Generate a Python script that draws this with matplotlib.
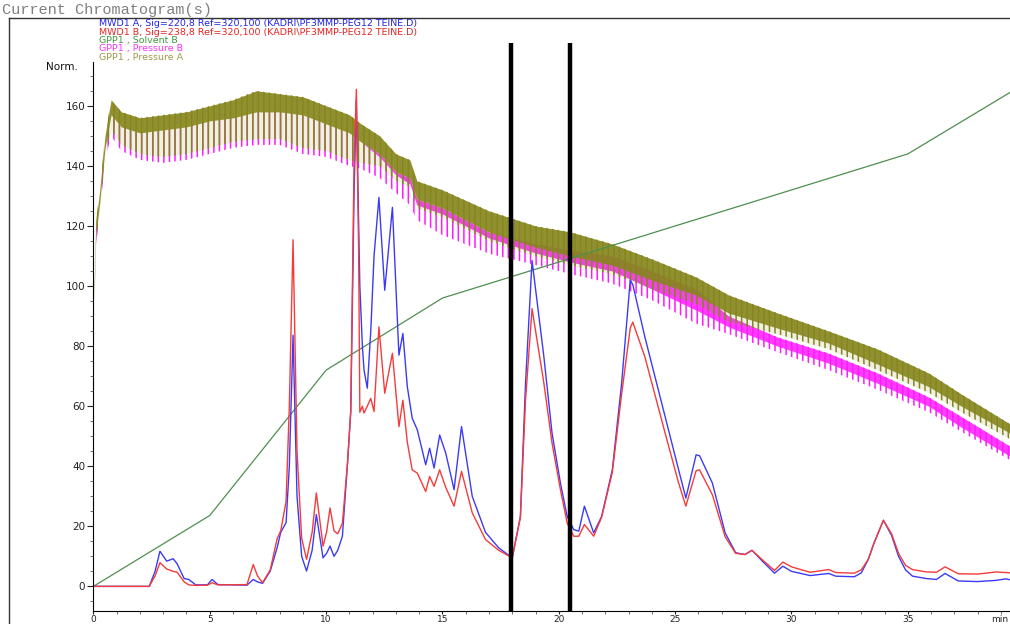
import matplotlib
matplotlib.use("Agg")
import matplotlib.pyplot as plt
from matplotlib.lines import Line2D
import numpy as np

# ---- UV traces (MWD1 A = 220 nm, MWD1 B = 238 nm)
uv_t = [0.0, 2.4, 2.65, 2.86, 3.15, 3.43, 3.6, 3.9, 4.1, 4.4, 4.9, 5.1, 5.35, 6.6, 6.87,
        7.05, 7.27, 7.6, 7.9, 8.05, 8.28, 8.42, 8.58, 8.75, 8.95, 9.16, 9.4, 9.58, 9.87,
        10.02, 10.17, 10.34, 10.5, 10.7, 10.92, 11.06, 11.2, 11.3, 11.4, 11.45, 11.56,
        11.63, 11.77, 11.92, 12.06, 12.27, 12.52, 12.85, 13.13, 13.3, 13.49, 13.7, 13.92,
        14.28, 14.45, 14.64, 14.88, 15.14, 15.5, 15.82, 16.28, 16.85, 17.42, 18.0, 18.35,
        18.57, 18.85, 19.36, 19.71, 20.07, 20.36, 20.64, 20.86, 21.1, 21.5, 21.84, 22.3,
        22.7, 23.07, 23.18, 23.7, 24.57, 25.15, 25.46, 25.9, 26.05, 26.6, 27.15, 27.6,
        28.0, 28.3, 28.8, 29.27, 29.63, 30.0, 30.8, 31.6, 31.9, 32.7, 33.0, 33.3, 33.55,
        33.95, 34.3, 34.6, 34.9, 35.2, 35.8, 36.23, 36.6, 37.17, 38.0, 38.8, 39.2, 39.4]
mwd_a = [0, 0, 5, 11.7, 8.4, 9.2, 7.5, 2.6, 2.3, 0.5, 0.5, 2.3, 0.6, 0.4, 2.3,
         1.5, 1.0, 5.1, 13, 18, 21.2, 40, 83.6, 30, 10, 5.1, 12, 23.9, 9.5,
         11, 13.4, 10, 12, 16.7, 41, 58, 130, 162, 120, 100, 79.8,
         72, 66, 85, 110, 129.5, 98.6, 126.2, 77, 84.2, 66.5, 56, 52.1,
         40.5, 46, 39.4, 50.4, 44.4, 32.2, 53.2, 30, 18, 12.8, 9.5, 23.3,
         67.6, 108.5, 76.4, 51, 34.4, 23.3, 18.9, 18.4, 26.7, 17.8, 23.3, 38.8,
         67.6, 101.9, 100.5, 83, 56.5, 38.8, 29.4, 43.8, 43.5, 34.4, 17.8, 11.2,
         10.6, 12, 8, 4.4, 6.7, 5, 3.6, 4.3, 3.4, 3.2, 4.5, 9, 14.5,
         22, 17, 10, 5.5, 3.4, 2.6, 2.3, 4.3, 1.8, 1.6, 2.0, 2.5, 2.2]
mwd_b = [0, 0, 3.5, 7.9, 5.8, 5.0, 4.7, 1.5, 0.5, 0.3, 0.4, 1.2, 0.5, 0.6, 7.3,
         3.5, 1.2, 5.5, 16, 18.5, 28.3, 60, 115.4, 45, 16, 9, 18, 31.1, 13.4,
         18, 26.1, 18.5, 17.5, 21, 41, 58.7, 140, 165.5, 110, 58, 60,
         57.7, 60, 62.6, 58.2, 86.4, 64.3, 77.6, 53.2, 62, 48, 38.8, 37.7,
         31.6, 36.6, 33.3, 38.8, 33, 26.7, 38.3, 24.5, 15.6, 12, 9.5, 23,
         62, 92.5, 67.6, 47.7, 32.2, 21.1, 16.7, 16.7, 20.6, 16.7, 23, 38,
         64, 86, 88, 76.4, 51, 34.4, 26.7, 38.5, 38.8, 30.5, 16.5, 11,
         10.6, 12, 8.5, 5.3, 8.1, 6.5, 4.7, 5.6, 4.6, 4.4, 5.5, 9, 14.5,
         22, 17.5, 11, 7, 5.6, 4.8, 4.7, 6.5, 4.2, 4.1, 4.8, 4.6, 4.5]

# ---- GPP1 solvent B (gradient)
sol_t = [0, 5, 10, 15, 35, 39.4]
sol_b = [0, 23.6, 72, 96, 144, 164.5]

# ---- GPP1 pressures: upper edge, lower edge of dense band, tips of pump dips
p_t = [0, 0.03, 0.1, 0.26, 0.5, 0.76, 1.2, 2, 3, 4, 5, 6, 7, 8, 9, 10, 11,
       11.5, 12.3, 13, 13.6, 13.9, 15, 17, 19, 20.5, 22.3, 24, 25.9,
       27.3, 29.4, 31.6, 33.7, 35.9, 37.3, 39.4]
pA_top = [0, 100, 121, 131, 150, 162, 158, 156, 157, 158, 160, 162, 165, 164, 163, 160, 157,
          154, 150, 144, 142, 135, 132, 125, 120, 118, 114, 109, 103,
          97, 91, 85, 79, 71, 64, 54]
pA_band = [0, 96, 117, 127, 146, 157, 153, 151, 152, 153, 155, 156, 158, 158, 157, 154, 151,
           148, 144, 138, 136, 129, 126, 118, 113, 110, 107, 102, 97,
           91, 86, 81, 74, 66.5, 60, 51]
pA_dip = [0, 94, 115, 125, 144, 152, 147, 144, 143, 144, 146, 148, 149, 149, 146, 145, 142,
          141, 140, 135, 133, 126, 123, 115, 110, 107, 104, 99, 94,
          88, 84, 79, 72, 64.5, 58, 49]
# B lies under A until ~25 min: only its dip tips show there
pB_top = [0, 96, 117, 127, 146, 157, 153, 151, 152, 153, 155, 156, 158, 158, 157, 154, 151,
          148, 144, 138, 136, 129, 126, 118, 114, 112, 110, 105, 99,
          90, 83, 77.6, 71, 63, 56.5, 46.6]
pB_band = [0, 96, 117, 127, 146, 157, 153, 151, 152, 153, 155, 156, 158, 158, 157, 154, 151,
           148, 143, 137, 134, 127, 124, 116, 111, 108, 105, 99, 92,
           86.4, 80, 74.3, 67.6, 60, 53, 43.3]
pB_dip = [0, 92, 113, 123, 142, 150, 145, 142, 141, 142, 144, 146, 147, 147, 144, 143, 140,
          139, 136, 131, 127, 122, 117, 110.8, 107, 104, 100.8, 95.3, 87.5,
          84, 78, 72, 65.5, 58, 51.5, 42]

# fraction collection marks (min)
cut_marks = [17.93, 20.5]

legend_lines = [
    ("MWD1 A, Sig=220,8 Ref=320,100 (KADRI\\PF3MMP-PEG12 TEINE.D)", "#2424e8"),
    ("MWD1 B, Sig=238,8 Ref=320,100 (KADRI\\PF3MMP-PEG12 TEINE.D)", "#e82424"),
    ("GPP1 , Solvent B", "#3f9a3f"),
    ("GPP1 , Pressure B", "#ff33ff"),
    ("GPP1 , Pressure A", "#9a9a4a"),
]

plt.rcParams["hatch.linewidth"] = 1.1

W, H = 1010, 624
fig = plt.figure(figsize=(W / 100, H / 100), dpi=100)
ax = fig.add_axes([93.4 / W, 13 / H, 1 - 93.4 / W, (611 - 62) / H])

# pressures: B first, A drawn over it; pump dips drawn as a vertical comb
magenta = "#ff1aff"
olive = "#86861e"
ax.fill_between(p_t, pB_dip, pB_top, facecolor="none", edgecolor=magenta, hatch="|||", lw=0)
ax.fill_between(p_t, pB_band, pB_top, color=magenta, alpha=0.85, lw=0)
ax.fill_between(p_t, pA_dip, pA_top, color=olive, alpha=0.12, lw=0)
ax.fill_between(p_t, pA_dip, pA_top, facecolor="none", edgecolor=olive, hatch="|||", lw=0)
ax.fill_between(p_t, pA_band, pA_top, color=olive, alpha=0.9, lw=0)

ax.plot(sol_t, sol_b, color="#4f8f4f", lw=0.9)

ax.plot(uv_t, mwd_a, color="#3b3bf5", lw=1.0)
ax.plot(uv_t, mwd_b, color="#f53b3b", lw=1.0)

for xm in cut_marks:
    ax.plot([xm, xm], [-8.2, 181], color="black", lw=3.2, clip_on=False, solid_capstyle="butt")

ax.set_xlim(0, 39.39)
ax.set_ylim(-8.2, 174.6)
for s in ["top", "right"]:
    ax.spines[s].set_visible(False)
ax.set_xticks(np.arange(0, 40, 5))
ax.set_xticks(np.arange(0, 40, 1), minor=True)
ax.set_yticks(np.arange(0, 161, 20))
ax.set_yticks(np.arange(-5, 174, 5), minor=True)
ax.tick_params(axis="y", which="major", length=4, width=0.8, labelsize=7.5,
               colors="#222222", pad=2)
ax.tick_params(axis="x", which="major", length=2.5, width=0.8, labelsize=6.5,
               colors="#222222", pad=0.5)
ax.tick_params(axis="both", which="minor", length=2, width=0.6, colors="#555555")
for lab in ax.get_xticklabels() + ax.get_yticklabels():
    lab.set_fontfamily("DejaVu Sans")

# frame, title, legend text
fig.add_artist(Line2D([9 / W, 1], [1 - 18 / H, 1 - 18 / H], color="#333333", lw=1))
fig.add_artist(Line2D([9 / W, 9 / W], [0, 1 - 18 / H], color="#333333", lw=1))
fig.text(2 / W, 1 - 10 / H, "Current Chromatogram(s)", family="Liberation Mono",
         fontsize=11, color="#808080", va="center", ha="left")
for i, (txt, col) in enumerate(legend_lines):
    fig.text(99 / W, 1 - (24 + i * 8.3) / H, txt, color=col, fontsize=6.8,
             family="DejaVu Sans", va="center", ha="left")
fig.text(78 / W, 1 - 67 / H, "Norm.", fontsize=7.5, ha="right", va="center", color="#111111")
fig.text(1008 / W, 1 - 619 / H, "min", fontsize=6.5, ha="right", va="center", color="#222222")

fig.savefig("out.png", dpi=100, facecolor="white")
